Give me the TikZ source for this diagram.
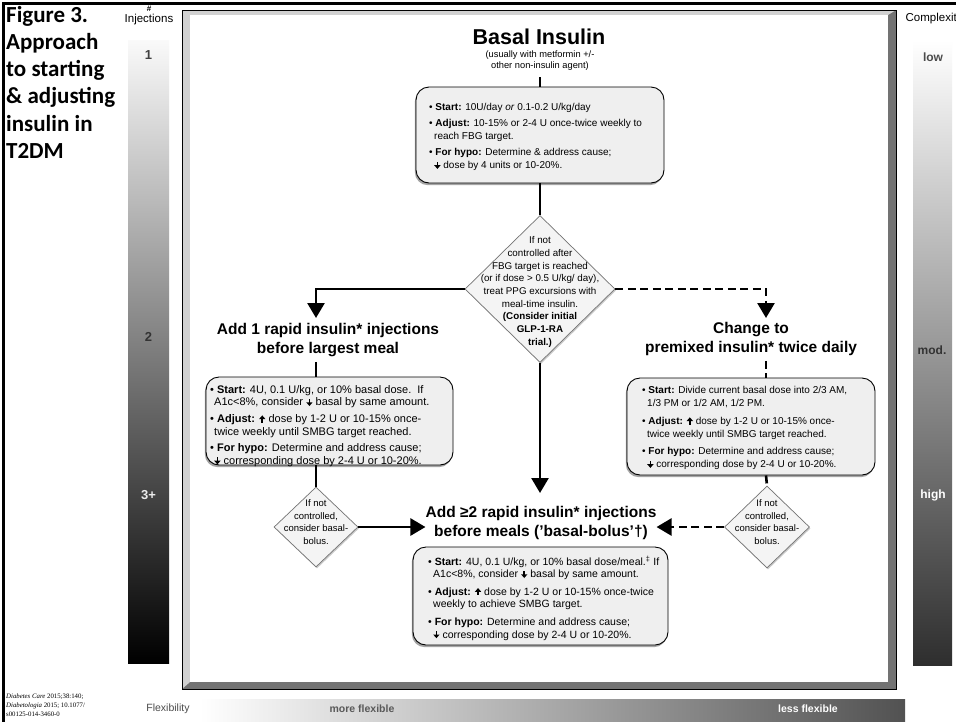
\documentclass[tikz,border=0pt]{standalone}
\usepackage{fontspec}
\setmainfont{Liberation Sans}
\newfontfamily\calib{Carlito}
\newfontfamily\tnr{Liberation Serif}
\usetikzlibrary{arrows.meta,shapes.geometric,shadows}
\definecolor{boxgray}{HTML}{EFEFEF}
\definecolor{diagray}{HTML}{F4F4F4}
\newcommand{\fs}[2]{\fontsize{#1}{#2}\selectfont}
\newcommand{\dnA}{\tikz[baseline=0pt]{\fill (-0.9pt,7pt) rectangle (0.9pt,3pt); \fill (-3.2pt,3.5pt) -- (3.2pt,3.5pt) -- (0pt,-0.2pt) -- cycle;}}
\newcommand{\upA}{\tikz[baseline=0pt]{\fill (-0.9pt,-0.2pt) rectangle (0.9pt,3.8pt); \fill (-3.2pt,3.3pt) -- (3.2pt,3.3pt) -- (0pt,7pt) -- cycle;}}
\begin{document}
\begin{tikzpicture}[x=1pt,y=-1pt,
  box/.style={rectangle, rounded corners=13pt, draw=black, line width=0.9pt, fill=boxgray, inner sep=0pt,
    drop shadow={shadow xshift=-1.2pt, shadow yshift=-2.2pt, opacity=0.5, fill=black!70}},
  dia/.style={diamond, draw=black!55, line width=0.7pt, fill=diagray, inner sep=0pt,
    drop shadow={shadow xshift=1pt, shadow yshift=-1.5pt, opacity=0.35, fill=black!60}},
  conn/.style={line width=2.6pt},
  arrtip/.style={-{Triangle[width=17pt,length=15pt]}},
  dconn/.style={line width=2.6pt, dash pattern=on 8pt off 4.5pt},
  btx/.style={inner sep=0pt, anchor=north west, align=left},
  ttl/.style={inner sep=0pt, align=center, font=\fs{15.5}{19}\bfseries},
  dtx/.style={inner sep=0pt, align=center, font=\fs{9.5}{12.7}},
  ttlline/.style={inner sep=0pt, anchor=base west, font=\calib\bfseries\fs{23}{26}},
  barlbl/.style={inner sep=0pt, font=\fs{13}{15}\bfseries}
]
\useasboundingbox (0,0) rectangle (956,721);
\fill[white] (0,0) rectangle (956,721);

% outer frame
\draw[line width=3pt] (3,722) -- (3,3) -- (957,3);

% title
\node[ttlline] (t1) at (6,22) {Figure 3.};
\node[ttlline] (t2) at (6,49.3) {Approach};
\node[ttlline] (t3) at (6,76.6) {to starting};
\node[ttlline] (t4) at (6,103.9) {\& adjusting};
\node[ttlline] (t5) at (6,131.2) {insulin in};
\node[ttlline] (t6) at (6,158.5) {T2DM};

% injections bar
\node[inner sep=0pt, font=\fs{8}{9}\bfseries] (hash) at (149,9) {\#};
\node[inner sep=0pt, font=\fs{11.5}{13}] (inj) at (149,20) {Injections};
\shade[top color=gray!4, bottom color=black] (128,40) rectangle (169,663);
\node[barlbl, text=black!75] (i1) at (148.5,55) {1};
\node[barlbl, text=black!80] (i2) at (148.5,337) {2};
\node[barlbl, text=white!85!gray] (i3) at (148.5,495) {3+};

% complexity bar
\node[inner sep=0pt, anchor=base east, font=\fs{11.5}{13}] (cplx) at (957,21) {Complexit};
\shade[top color=white, middle color=gray!88, bottom color=black!82] (913,40) rectangle (952,665);
\node[barlbl, text=black!70, font=\fs{12}{14}\bfseries] (clow) at (933,57) {low};
\node[barlbl, text=black!80, font=\fs{12}{14}\bfseries] (cmod) at (932,350) {mod.};
\node[barlbl, text=white, font=\fs{12}{14}\bfseries] (chigh) at (933,495) {high};

% main panel
\fill[black!55] (182,10) rectangle (896,689);
\fill[black!18] (182,10) -- (896,10) -- (888,15) -- (190,15) -- (190,682) -- (182,689) -- cycle;
\fill[white] (190,15) rectangle (888,682);
\draw[line width=1pt] (182,10) rectangle (896,689);

% flexibility bar
\shade[left color=white, right color=black!68] (200,699) rectangle (905,721);
\node[inner sep=0pt, font=\fs{10.5}{12}, text=black!70] (flex) at (168,709) {Flexibility};
\node[inner sep=0pt, font=\fs{10.5}{12}\bfseries, text=black!65] (more) at (362,709) {more flexible};
\node[inner sep=0pt, font=\fs{10.5}{12}\bfseries, text=white] (less) at (808,709) {less flexible};
\node[btx, font=\tnr\fs{6.8}{9}] (cite) at (6,692.5) {\rule{0pt}{6pt}\textit{Diabetes Care} 2015;38:140;\\\textit{Diabetologia} 2015; 10.1077/\\s00125-014-3460-0};

% coordinates
\coordinate (colL) at (316,0);
\coordinate (colR) at (766,0);
\coordinate (lin) at (316,318);
\coordinate (rin) at (766,318);
\coordinate (bin) at (540,493);

% basal insulin
\node[inner sep=0pt, font=\fs{21.5}{24}\bfseries] (basal) at (539,37) {Basal Insulin};
\node[inner sep=0pt, align=center, font=\fs{9.3}{10.5}] (basalsub) at (540,60.5) {(usually with metformin +/-\\other non-insulin agent)};
\node[box, minimum width=248pt, minimum height=96pt] (box1) at (540,135) {};
\node[btx, font=\fs{10}{13}] (box1t) at (429,102.5) {\rule{0pt}{8pt}\textbullet\ \textbf{Start:} 10U/day \textit{or} 0.1-0.2 U/kg/day\\[3pt]
\textbullet\ \textbf{Adjust:} 10-15\% or 2-4 U once-twice weekly to\\
\hspace*{5pt}reach FBG target.\\[3pt]
\textbullet\ \textbf{For hypo:} Determine \& address cause;\\
\hspace*{5pt}\dnA\ dose by 4 units or 10-20\%.};

% main diamond
\node[dia, minimum width=150pt, minimum height=147pt] (d) at (540,289) {};
\node[dtx, font=\fs{9.8}{12.7}] (dt) at (540,292) {If not\\controlled after\\FBG target is reached\\(or if dose > 0.5 U/kg/ day),\\treat PPG excursions with\\meal-time insulin.\\\textbf{(Consider initial}\\\textbf{GLP-1-RA}\\\textbf{trial.)}};

% titles
\node[ttl] (lt) at (328,340) {Add 1 rapid insulin* injections\\before largest meal};
\node[ttl] (rt) at (751,339) {Change to\\premixed insulin* twice daily};
\node[ttl] (bt) at (541,523) {Add ≥2 rapid insulin* injections\\before meals ('basal-bolus'†)};

% left box
\node[box, minimum width=247pt, minimum height=88pt] (lb) at (329.5,421) {};
\node[btx, font=\fs{11}{12.6}] (lbt) at (210,385) {\rule{0pt}{8pt}\textbullet\ \textbf{Start:} 4U, 0.1 U/kg, or 10\% basal dose.\ \ If\\
\hspace*{4pt}A1c<8\%, consider \dnA\ basal by same amount.\\[4pt]
\textbullet\ \textbf{Adjust:} \upA\ dose by 1-2 U or 10-15\% once-\\
\hspace*{4pt}twice weekly until SMBG target reached.\\[4pt]
\textbullet\ \textbf{For hypo:} Determine and address cause;\\
\hspace*{4pt}\dnA\ corresponding dose by 2-4 U or 10-20\%.};

% right box
\node[box, minimum width=248pt, minimum height=97pt] (rb) at (751,426.5) {};
\node[btx, font=\fs{10}{12.8}] (rbt) at (642,385.5) {\rule{0pt}{8pt}\textbullet\ \textbf{Start:} Divide current basal dose into 2/3 AM,\\
\hspace*{5pt}1/3 PM or 1/2 AM, 1/2 PM.\\[5pt]
\textbullet\ \textbf{Adjust:} \upA\ dose by 1-2 U or 10-15\% once-\\
\hspace*{5pt}twice weekly until SMBG target reached.\\[5pt]
\textbullet\ \textbf{For hypo:} Determine and address cause;\\
\hspace*{5pt}\dnA\ corresponding dose by 2-4 U or 10-20\%.};

% bottom box
\node[box, minimum width=255pt, minimum height=98pt] (bb) at (540.5,596) {};
\node[btx, font=\fs{10.5}{12.8}] (bbt) at (428,555.5) {\rule{0pt}{8pt}\textbullet\ \textbf{Start:} 4U, 0.1 U/kg, or 10\% basal dose/meal.\textsuperscript{‡} If\\
\hspace*{5pt}A1c<8\%, consider \dnA\ basal by same amount.\\[4.5pt]
\textbullet\ \textbf{Adjust:} \upA\ dose by 1-2 U or 10-15\% once-twice\\
\hspace*{5pt}weekly to achieve SMBG target.\\[4.5pt]
\textbullet\ \textbf{For hypo:} Determine and address cause;\\
\hspace*{5pt}\dnA\ corresponding dose by 2-4 U or 10-20\%.};

% small diamonds
\node[dia, minimum width=84pt, minimum height=80pt] (ldia) at (316,527) {};
\node[dtx] (ldt) at (316,522) {If not\\controlled,\\consider basal-\\bolus.};
\node[dia, minimum width=85pt, minimum height=82pt] (rdia) at (767,527) {};
\node[dtx] (rdt) at (767,522) {If not\\controlled,\\consider basal-\\bolus.};

% connectors
\draw[conn, shorten <=7pt] (basalsub.south) -- (box1.north);
\draw[conn] (box1.south) -- (d.north);
\draw[conn, arrtip] (d.west) -| (lin);
\draw[dconn, arrtip] (d.east) -| (rin);
\draw[conn, arrtip] (d.south) -- (bin);
\draw[conn, shorten <=5pt] (lt.south -| colL) -- (lb.north -| colL);
\draw[dconn, shorten <=5pt] (rt.south -| colR) -- (rb.north -| colR);
\draw[conn] (lb.south -| colL) -- (ldia.north);
\draw[dconn] (rb.south -| colR) -- (rdia.north);
\draw[conn, arrtip] (ldia.east) -- (ldia.east -| bt.west);
\draw[dconn, arrtip] (rdia.west) -- (rdia.west -| bt.east);
\end{tikzpicture}
\end{document}
